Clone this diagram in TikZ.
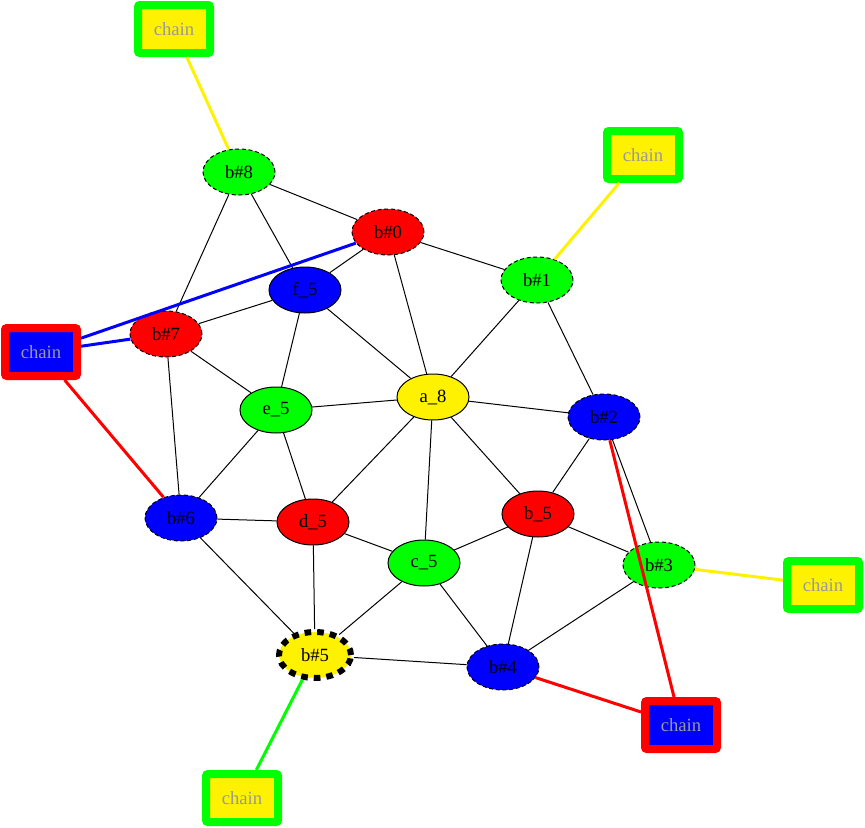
\documentclass[tikz,border=0pt]{standalone}
\usepackage{fontspec}
\setmainfont{Liberation Serif}
\usetikzlibrary{shapes.geometric}
\begin{document}
\begin{tikzpicture}[x=.75pt,y=-.75pt,font=\fontsize{14}{16}\selectfont]
\tikzset{vert/.style={ellipse,draw,line width=.75pt,minimum width=54pt,minimum height=34.5pt,inner sep=1pt},
 bvert/.style={vert,dash pattern=on 3pt off 2pt},
 chainbox/.style={draw,line width=6pt,rounded corners=1.5pt,minimum width=54pt,minimum height=36pt,text=gray!80,inner sep=0pt},
 link/.style={line width=2.25pt}}
\useasboundingbox (0,0) rectangle (865,828);
% inner nodes
\node[vert,fill=yellow] (a8) at (433,397) {a\_8};
\node[vert,fill=red] (b5) at (538,514) {b\_5};
\node[vert,fill=green] (c5) at (424,563) {c\_5};
\node[vert,fill=red] (d5) at (313,522) {d\_5};
\node[vert,fill=green] (e5) at (276,410) {e\_5};
\node[vert,fill=blue] (f5) at (305,290) {f\_5};
% border nodes
\node[bvert,fill=red] (n0) at (388,232) {b\#0};
\node[bvert,fill=green] (n1) at (537,280) {b\#1};
\node[bvert,fill=blue] (n2) at (604,417) {b\#2};
\node[bvert,fill=green] (n3) at (659,565) {b\#3};
\node[bvert,fill=blue] (n4) at (503,667) {b\#4};
\node[vert,fill=yellow,line width=4.5pt,dash pattern=on 5pt off 4.5pt] (n5) at (315,655) {b\#5};
\node[bvert,fill=blue] (n6) at (181,518) {b\#6};
\node[bvert,fill=red] (n7) at (166,334) {b\#7};
\node[bvert,fill=green] (n8) at (239,172) {b\#8};
% chains
\node[chainbox,draw=green,fill=yellow] (ch8) at (174,29) {chain};
\node[chainbox,draw=green,fill=yellow] (ch1) at (643,155) {chain};
\node[chainbox,draw=red,fill=blue] (ch7) at (41,352) {chain};
\node[chainbox,draw=green,fill=yellow] (ch3) at (823,585) {chain};
\node[chainbox,draw=red,fill=blue] (ch4) at (681,725) {chain};
\node[chainbox,draw=green,fill=yellow] (ch5) at (242,798) {chain};
\foreach \p/\q in {n8/n0,n8/n7,n8/f5,n0/f5,n0/n1,n0/a8,n1/a8,n1/n2,f5/n7,f5/e5,f5/a8,
 n7/e5,n7/n6,e5/a8,e5/n6,e5/d5,a8/n2,a8/d5,a8/c5,a8/b5,n2/b5,n2/n3,n6/d5,n6/n5,
 d5/c5,d5/n5,b5/c5,b5/n3,b5/n4,c5/n5,c5/n4,n3/n4,n5/n4}
 {\draw[line width=.75pt] (\p)--(\q);}
\draw[link,yellow] (ch8)--(n8);
\draw[link,yellow] (ch1)--(n1);
\draw[link,yellow] (ch3)--(n3);
\draw[link,blue] (ch7)--(n0);
\draw[link,blue] (ch7)--(n7);
\draw[link,red] (ch7)--(n6);
\draw[link,red] (ch4)--(n2);
\draw[link,red] (ch4)--(n4);
\draw[link,green] (ch5)--(n5);
\end{tikzpicture}
\end{document}
